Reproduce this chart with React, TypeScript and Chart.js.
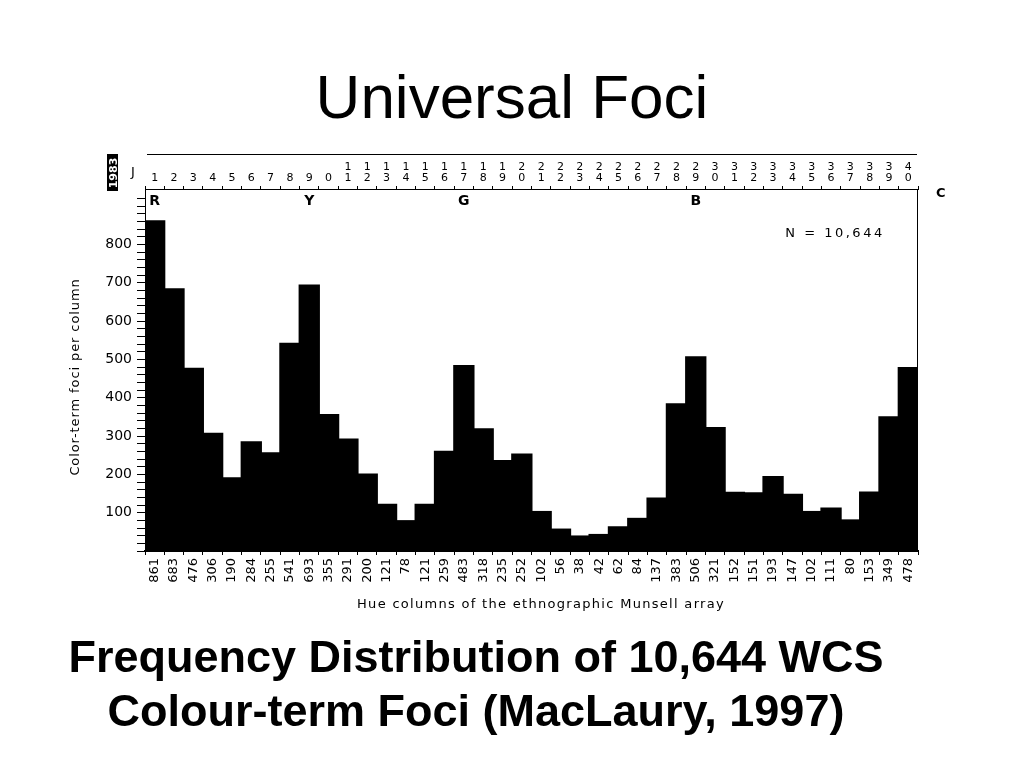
import React, { useEffect, useRef } from "react";
import { Chart, registerables } from "chart.js";

Chart.register(...registerables);

// Hue columns 1..40 of the ethnographic Munsell array
const hueColumns: string[] = [
  "1", "2", "3", "4", "5", "6", "7", "8", "9", "10",
  "11", "12", "13", "14", "15", "16", "17", "18", "19", "20",
  "21", "22", "23", "24", "25", "26", "27", "28", "29", "30",
  "31", "32", "33", "34", "35", "36", "37", "38", "39", "40",
];

// Top-axis labels as printed (two stacked digits)
const topColumnLabels: string[][] = [
  ["1"], ["2"], ["3"], ["4"], ["5"], ["6"], ["7"], ["8"], ["9"], ["", "0"],
  ["1", "1"], ["1", "2"], ["1", "3"], ["1", "4"], ["1", "5"], ["1", "6"], ["1", "7"], ["1", "8"], ["1", "9"], ["2", "0"],
  ["2", "1"], ["2", "2"], ["2", "3"], ["2", "4"], ["2", "5"], ["2", "6"], ["2", "7"], ["2", "8"], ["2", "9"], ["3", "0"],
  ["3", "1"], ["3", "2"], ["3", "3"], ["3", "4"], ["3", "5"], ["3", "6"], ["3", "7"], ["3", "8"], ["3", "9"], ["4", "0"],
];

// Colour-term foci per column
const fociCounts: number[] = [
  861, 683, 476, 306, 190, 284, 255, 541, 693, 355,
  291, 200, 121, 78, 121, 259, 483, 318, 235, 252,
  102, 56, 38, 42, 62, 84, 137, 383, 506, 321,
  152, 151, 193, 147, 102, 111, 80, 153, 349, 478,
];

// Count labels along the bottom axis
const countLabels: string[] = fociCounts.map((v) => String(v));

// Y tick labels shown
const yTickLabels: number[] = [100, 200, 300, 400, 500, 600, 700, 800];

// Colour letters above hue columns
const letterColumns: string[] = ["1", "9", "17", "29"];
const letterTexts: string[] = ["R", "Y", "G", "B"];

const totalLabel = "N = 10,644";
const xTitle = "Hue columns of the ethnographic Munsell array";
const yTitle = "Color-term foci per column";

const chartFont = '"DejaVu Sans", "Liberation Sans", sans-serif';

const overlayPlugin = {
  id: "overlay",
  afterDraw(chart: any) {
    const { ctx, chartArea: a, scales } = chart;
    ctx.save();
    ctx.strokeStyle = "#000";
    ctx.lineWidth = 1;
    // frame right + top
    ctx.beginPath();
    ctx.moveTo(a.left, a.top + 0.5);
    ctx.lineTo(a.right - 0.5, a.top + 0.5);
    ctx.lineTo(a.right - 0.5, a.bottom);
    ctx.stroke();
    // top rule above column numbers
    ctx.beginPath();
    ctx.moveTo(a.left + 2, a.top - 34.5);
    ctx.lineTo(a.right - 1, a.top - 34.5);
    ctx.stroke();
    // letters
    ctx.fillStyle = "#000";
    ctx.font = "bold 14px " + chartFont;
    ctx.textAlign = "center";
    ctx.textBaseline = "middle";
    letterColumns.forEach((c, i) => {
      const idx = hueColumns.indexOf(c);
      const x = scales.x.getPixelForValue(idx);
      ctx.fillText(letterTexts[i], x, a.top + 12);
    });
    // N label
    ctx.font = "13px " + chartFont;
    (ctx as any).letterSpacing = "2.5px";
    ctx.textAlign = "center";
    ctx.fillText(totalLabel, a.right - 83, a.top + 45);
    // x title
    (ctx as any).letterSpacing = "1.3px";
    ctx.fillText(xTitle, a.left + 396, a.bottom + 54);
    // y title
    (ctx as any).letterSpacing = "0.9px";
    ctx.translate(a.left - 69, a.top + 188);
    ctx.rotate(-Math.PI / 2);
    ctx.fillText(yTitle, 0, 0);
    ctx.restore();
  },
};

export default function App() {
  const canvasRef = useRef<HTMLCanvasElement | null>(null);

  useEffect(() => {
    if (!canvasRef.current) return;
    const chart = new Chart(canvasRef.current, {
      type: "bar",
      data: {
        labels: countLabels,
        datasets: [
          {
            data: fociCounts,
            backgroundColor: "#000",
            borderWidth: 0,
            inflateAmount: 1,
            barPercentage: 1,
            categoryPercentage: 1,
            xAxisID: "x",
            yAxisID: "y",
          } as any,
        ],
      },
      options: {
        responsive: false,
        maintainAspectRatio: false,
        animation: false,
        layout: { padding: { left: 64, top: 150, right: 106, bottom: 151 } },
        plugins: {
          legend: { display: false },
          tooltip: { enabled: false },
        },
        scales: {
          x: {
            type: "category",
            position: "bottom",
            labels: countLabels,
            grid: {
              display: true,
              drawOnChartArea: false,
              offset: true,
              tickLength: 4,
              color: "#000",
            },
            border: { display: true, color: "#000", width: 2 },
            ticks: {
              autoSkip: false,
              maxRotation: 90,
              minRotation: 90,
              padding: 3,
              color: "#000",
              font: { family: chartFont, size: 13 },
            },
            afterFit: (scale: any) => {
              scale.height = 66;
            },
          },
          x2: {
            type: "category",
            position: "top",
            labels: topColumnLabels as any,
            grid: {
              display: true,
              drawOnChartArea: false,
              offset: true,
              tickLength: 3,
              color: "#000",
            },
            border: { display: true, color: "#000", width: 1 },
            ticks: {
              autoSkip: false,
              maxRotation: 0,
              minRotation: 0,
              padding: 2,
              color: "#000",
              font: { family: chartFont, size: 11, lineHeight: 1.0 },
            },
            afterFit: (scale: any) => {
              scale.height = 39;
            },
          },
          y: {
            type: "linear",
            position: "left",
            min: 0,
            max: 945,
            grid: {
              display: true,
              drawOnChartArea: false,
              tickLength: 8,
              color: "#000",
            },
            border: { display: true, color: "#000", width: 1 },
            ticks: {
              stepSize: 20,
              autoSkip: false,
              padding: 5,
              color: "#000",
              font: { family: chartFont, size: 14 },
              callback: (v: any) => (yTickLabels.includes(Number(v)) ? String(v) : ""),
            },
            afterBuildTicks: (scale: any) => {
              scale.ticks = scale.ticks.filter((t: any) => t.value % 20 === 0);
            },
            afterFit: (scale: any) => {
              scale.width = 81;
            },
          },
        },
      },
      plugins: [overlayPlugin],
    });
    return () => chart.destroy();
  }, []);

  return (
    <div
      style={{
        position: "absolute",
        left: 0,
        top: 0,
        width: 1024,
        height: 768,
        background: "#fff",
        overflow: "hidden",
      }}
    >
      <div
        style={{
          position: "absolute",
          left: 0,
          top: 66,
          width: 1024,
          textAlign: "center",
          fontFamily: '"Liberation Sans", Arial, sans-serif',
          fontSize: 62,
          lineHeight: 1,
          color: "#000",
        }}
      >
        Universal Foci
      </div>
      <canvas
        ref={canvasRef}
        width={1024}
        height={768}
        style={{ position: "absolute", left: 0, top: 0, width: 1024, height: 768 }}
      />
      <div
        style={{
          position: "absolute",
          left: 107,
          top: 154,
          width: 11,
          height: 37,
          background: "#000",
        }}
      >
        <div
          style={{
            position: "absolute",
            left: "50%",
            top: "50%",
            transform: "translate(-50%, -50%) rotate(-90deg)",
            color: "#fff",
            fontFamily: chartFont,
            fontWeight: "bold",
            fontSize: 11,
            lineHeight: 1,
            whiteSpace: "nowrap",
          }}
        >
          1983
        </div>
      </div>
      <div
        style={{
          position: "absolute",
          left: 131,
          top: 165,
          fontFamily: chartFont,
          fontSize: 13,
          lineHeight: 1,
          color: "#000",
        }}
      >
        J
      </div>
      <div
        style={{
          position: "absolute",
          left: 936,
          top: 186,
          fontFamily: chartFont,
          fontWeight: "bold",
          fontSize: 13,
          lineHeight: 1,
          color: "#000",
        }}
      >
        C
      </div>
      <div
        style={{
          position: "absolute",
          left: 0,
          top: 630,
          width: 952,
          textAlign: "center",
          fontFamily: '"Liberation Sans", Arial, sans-serif',
          fontWeight: "bold",
          fontSize: 45,
          lineHeight: "54px",
          color: "#000",
        }}
      >
        Frequency Distribution of 10,644 WCS
        <br />
        Colour-term Foci (MacLaury, 1997)
      </div>
    </div>
  );
}
